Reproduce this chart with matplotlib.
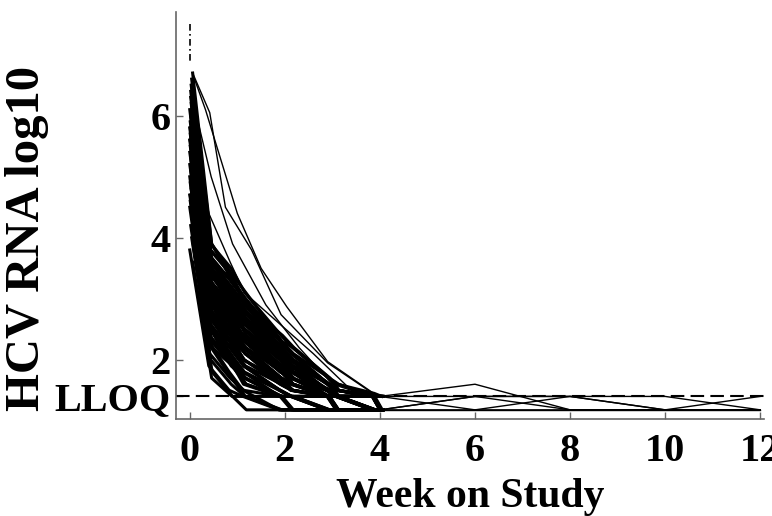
import matplotlib.pyplot as plt
import numpy as np

plt.rcParams['font.family'] = ['Liberation Serif', 'DejaVu Serif']
plt.rcParams['font.weight'] = 'bold'

lloq = 1.4

# nominal visit weeks (day 0, day 3, day 6, then early/late in each week window)
visit_weeks = [0.0, 0.40, 0.83, 1.12, 1.88, 2.12, 2.88, 3.07, 3.84, 4.0]
# per-subject offset of the actual visit from the nominal one (weeks)
subject_shift = [0.02, 0.05, 0.00, 0.03, 0.06, 0.01, 0.04, 0.07, 0.02, 0.05,
                 0.00, 0.03, 0.06, 0.01, 0.04, 0.02, 0.07, 0.00, 0.05, 0.03,
                 0.01, 0.06, 0.04, 0.02, 0.00, 0.07, 0.03, 0.05, 0.01, 0.06,
                 0.02, 0.04, 0.00, 0.07, 0.03, 0.05, 0.01, 0.06, 0.02, 0.04,
                 0.00, 0.03, 0.07, 0.05, 0.01, 0.06, 0.02, 0.04,
                 0.04, 0.01, 0.06, 0.03, 0.00, 0.05, 0.02, 0.07, 0.04, 0.01,
                 0.06, 0.03, 0.05, 0.00, 0.02, 0.07, 0.04, 0.01, 0.03, 0.06,
                 0.00, 0.05, 0.02, 0.04]

hcv_log10 = [
    [6.3, 3.7, 3.3, 3.0, 2.3, 2.1, 1.6, 1.5, 1.4, 1.4],
    [5.9, 3.4, 3.0, 2.7, 2.0, 1.9, 1.5, 1.4, 1.4, 1.18],
    [6.1, 3.5, 3.1, 2.8, 2.2, 2.0, 1.5, 1.4, 1.18, 1.18],
    [5.4, 3.0, 2.6, 2.4, 1.8, 1.7, 1.4, 1.4, 1.18, 1.18],
    [5.0, 2.7, 2.3, 2.1, 1.6, 1.5, 1.4, 1.18, 1.18, 1.18],
    [4.6, 2.4, 2.0, 1.8, 1.4, 1.4, 1.18, 1.18, 1.18, 1.18],
    [6.6, 3.9, 3.5, 3.1, 2.4, 2.2, 1.7, 1.6, 1.45, 1.4],
    [5.7, 3.2, 2.8, 2.6, 2.0, 1.8, 1.5, 1.4, 1.4, 1.4],
    [4.2, 2.1, 1.7, 1.5, 1.4, 1.18, 1.18, 1.18, 1.18, 1.18],
    [5.2, 2.9, 2.5, 2.2, 1.7, 1.6, 1.4, 1.4, 1.18, 1.18],
    [3.8, 1.9, 1.5, 1.4, 1.18, 1.18, 1.18, 1.18, 1.18, 1.18],
    [6.0, 3.3, 2.9, 2.5, 1.9, 1.8, 1.4, 1.4, 1.4, 1.18],
    [5.5, 3.1, 2.7, 2.3, 1.8, 1.6, 1.4, 1.18, 1.18, 1.18],
    [4.9, 2.6, 2.2, 1.9, 1.5, 1.4, 1.4, 1.18, 1.18, 1.18],
    [6.4, 3.6, 3.2, 2.9, 2.2, 2.0, 1.6, 1.5, 1.4, 1.4],
    [5.3, 2.8, 2.4, 2.0, 1.6, 1.5, 1.4, 1.4, 1.18, 1.18],
    [4.4, 2.2, 1.9, 1.6, 1.4, 1.4, 1.18, 1.18, 1.18, 1.18],
    [5.8, 3.3, 2.9, 2.7, 2.1, 1.9, 1.5, 1.4, 1.4, 1.18],
    [6.2, 3.5, 3.0, 2.6, 2.0, 1.8, 1.5, 1.4, 1.18, 1.18],
    [4.8, 2.5, 2.1, 1.7, 1.4, 1.4, 1.18, 1.18, 1.18, 1.18],
    [5.6, 3.0, 2.5, 2.2, 1.7, 1.6, 1.4, 1.4, 1.4, 1.18],
    [3.6, 1.7, 1.4, 1.4, 1.18, 1.18, 1.18, 1.18, 1.18, 1.18],
    [6.5, 3.8, 3.4, 2.9, 2.3, 2.1, 1.6, 1.5, 1.4, 1.4],
    [5.1, 2.7, 2.3, 1.9, 1.5, 1.4, 1.4, 1.18, 1.18, 1.18],
    [4.5, 2.3, 1.8, 1.5, 1.18, 1.18, 1.18, 1.18, 1.18, 1.18],
    [5.9, 3.4, 2.8, 2.4, 1.9, 1.7, 1.4, 1.4, 1.18, 1.18],
    [6.0, 3.2, 2.7, 2.5, 2.0, 1.9, 1.5, 1.4, 1.4, 1.18],
    [5.4, 2.9, 2.4, 2.1, 1.6, 1.5, 1.4, 1.18, 1.18, 1.18],
    [4.7, 2.4, 2.0, 1.6, 1.4, 1.4, 1.18, 1.18, 1.18, 1.18],
    [6.3, 3.6, 3.1, 2.8, 2.1, 1.9, 1.6, 1.4, 1.4, 1.4],
    [5.7, 3.1, 2.6, 2.3, 1.8, 1.7, 1.4, 1.4, 1.18, 1.18],
    [4.0, 2.0, 1.6, 1.4, 1.18, 1.18, 1.18, 1.18, 1.18, 1.18],
    [5.0, 2.6, 2.1, 1.8, 1.5, 1.4, 1.18, 1.18, 1.18, 1.18],
    [6.1, 3.4, 2.9, 2.6, 2.0, 1.8, 1.5, 1.4, 1.18, 1.18],
    [5.5, 2.8, 2.3, 2.0, 1.6, 1.5, 1.4, 1.4, 1.4, 1.18],
    [4.3, 2.2, 1.7, 1.4, 1.4, 1.18, 1.18, 1.18, 1.18, 1.18],
    [5.8, 3.2, 2.6, 2.2, 1.7, 1.6, 1.4, 1.18, 1.18, 1.18],
    [6.7, 3.9, 3.3, 3.0, 2.3, 2.1, 1.7, 1.5, 1.4, 1.4],
    [5.2, 2.7, 2.2, 1.9, 1.5, 1.4, 1.4, 1.18, 1.18, 1.18],
    [4.9, 2.5, 1.9, 1.7, 1.4, 1.4, 1.18, 1.18, 1.18, 1.18],
    [5.6, 3.1, 2.7, 2.4, 1.9, 1.7, 1.5, 1.4, 1.4, 1.18],
    [6.2, 3.3, 2.8, 2.5, 1.9, 1.8, 1.4, 1.4, 1.18, 1.18],
    [3.9, 1.8, 1.4, 1.18, 1.18, 1.18, 1.18, 1.18, 1.18, 1.18],
    [5.3, 2.9, 2.5, 2.2, 1.7, 1.5, 1.4, 1.4, 1.18, 1.18],
    [5.9, 3.5, 3.1, 2.7, 2.2, 2.0, 1.6, 1.5, 1.4, 1.4],
    [4.6, 2.3, 1.9, 1.6, 1.4, 1.18, 1.18, 1.18, 1.18, 1.18],
    [6.4, 3.7, 3.2, 2.8, 2.1, 1.9, 1.5, 1.4, 1.4, 1.18],
    [5.0, 2.5, 2.0, 1.7, 1.4, 1.4, 1.18, 1.18, 1.18, 1.18],
    [6.0, 3.6, 3.2, 2.9, 2.3, 2.1, 1.6, 1.5, 1.4, 1.4],
    [5.5, 3.3, 2.9, 2.6, 2.1, 1.9, 1.5, 1.4, 1.18, 1.18],
    [4.8, 2.8, 2.4, 2.2, 1.8, 1.6, 1.4, 1.4, 1.18, 1.18],
    [6.3, 3.8, 3.4, 3.0, 2.2, 2.0, 1.6, 1.5, 1.4, 1.4],
    [5.2, 3.0, 2.7, 2.4, 1.9, 1.7, 1.5, 1.4, 1.4, 1.18],
    [4.4, 2.5, 2.2, 1.9, 1.6, 1.5, 1.4, 1.18, 1.18, 1.18],
    [5.8, 3.5, 3.0, 2.8, 2.2, 2.0, 1.6, 1.4, 1.4, 1.18],
    [6.1, 3.6, 3.3, 2.9, 2.4, 2.2, 1.7, 1.5, 1.4, 1.4],
    [5.0, 2.9, 2.6, 2.3, 1.8, 1.6, 1.4, 1.4, 1.18, 1.18],
    [5.6, 3.2, 2.8, 2.5, 2.0, 1.8, 1.5, 1.4, 1.4, 1.18],
    [4.1, 2.3, 2.0, 1.7, 1.4, 1.4, 1.18, 1.18, 1.18, 1.18],
    [6.5, 3.7, 3.3, 3.0, 2.3, 2.1, 1.6, 1.5, 1.4, 1.4],
    [5.3, 3.1, 2.7, 2.5, 2.0, 1.8, 1.5, 1.4, 1.18, 1.18],
    [4.7, 2.7, 2.3, 2.0, 1.7, 1.5, 1.4, 1.4, 1.18, 1.18],
    [5.9, 3.4, 3.0, 2.7, 2.1, 1.9, 1.5, 1.4, 1.4, 1.18],
    [6.2, 3.5, 3.1, 2.8, 2.2, 2.0, 1.6, 1.4, 1.4, 1.4],
    [5.1, 2.8, 2.5, 2.1, 1.7, 1.6, 1.4, 1.18, 1.18, 1.18],
    [5.7, 3.3, 2.9, 2.6, 2.1, 1.9, 1.5, 1.4, 1.4, 1.18],
    [4.5, 2.6, 2.1, 1.8, 1.5, 1.4, 1.4, 1.18, 1.18, 1.18],
    [6.4, 3.9, 3.4, 3.1, 2.3, 2.2, 1.7, 1.6, 1.4, 1.4],
    [5.4, 3.2, 2.8, 2.4, 1.9, 1.7, 1.5, 1.4, 1.18, 1.18],
    [4.9, 2.8, 2.4, 2.1, 1.7, 1.6, 1.4, 1.4, 1.18, 1.18],
    [6.0, 3.4, 3.0, 2.6, 2.0, 1.8, 1.5, 1.4, 1.4, 1.18],
    [5.6, 3.0, 2.6, 2.3, 1.8, 1.7, 1.4, 1.4, 1.18, 1.18],
]

# slower responders, with their own visit weeks
slow_weeks = [
    [0.06, 0.42, 0.75, 1.30, 1.92, 2.90, 3.85],
    [0.10, 0.33, 1.00, 1.50, 2.04, 2.90, 3.85],
    [0.05, 0.45, 0.90, 1.60, 2.30, 3.00, 3.80],
    [0.03, 0.40, 0.85, 1.15, 2.60, 3.40, 4.00],
]
slow_log10 = [
    [6.7, 6.05, 4.5, 3.8, 2.74, 1.95, 1.45],
    [6.6, 6.1, 4.4, 3.5, 2.87, 1.97, 1.46],
    [6.3, 5.0, 3.9, 2.9, 2.2, 1.6, 1.4],
    [6.0, 4.4, 3.6, 3.1, 2.1, 1.5, 1.4],
]

# subjects followed after week 4
followup_weeks = [4, 6, 8, 10, 12]
followup_log10 = [
    [1.4, 1.6, 1.18, 1.18, 1.18],
    [1.18, 1.4, 1.18, 1.18, 1.18],
    [1.18, 1.18, 1.4, 1.18, 1.4],
    [1.4, 1.4, 1.4, 1.18, 1.18],
    [1.18, 1.18, 1.18, 1.18, 1.18],
    [1.4, 1.18, 1.18, 1.18, 1.18],
    [1.18, 1.4, 1.4, 1.4, 1.18],
]

screen_log10 = [7.5, 6.9]

xticks = [0, 2, 4, 6, 8, 10, 12]
yticks = [lloq, 2, 4, 6]
ytick_labels = ['LLOQ', '2', '4', '6']

fig = plt.figure(figsize=(7.72, 5.16), dpi=100)
ax = fig.add_axes([176 / 772, 1 - 419 / 516, 588 / 772, 407 / 516])

for shift, vals in zip(subject_shift, hcv_log10):
    ax.plot(np.array(visit_weeks) + shift, vals, color='black', lw=2.2)
for wk, vals in zip(slow_weeks, slow_log10):
    ax.plot(wk, vals, color='black', lw=1.0)
for vals in followup_log10:
    ax.plot(followup_weeks, vals, color='black', lw=1.0)
ax.plot([0, 0], screen_log10, color='black', lw=1.2, dashes=(4, 2, 1, 2))

ax.axhline(lloq, color='black', lw=1.5, dashes=(6.5, 3))

ax.set_xlim(-0.29, 12.08)
ax.set_ylim(1.03, 7.7)
ax.set_xticks(xticks)
ax.set_yticks(yticks)
ax.set_yticklabels(ytick_labels)

for s in ['top', 'right']:
    ax.spines[s].set_visible(False)
for s in ['left', 'bottom']:
    ax.spines[s].set_color('#666666')
    ax.spines[s].set_linewidth(1.2)

ax.tick_params(axis='both', direction='in', length=5, width=1, color='#666666',
               labelsize=29)
ax.tick_params(axis='x', pad=10)
ax.tick_params(axis='y', pad=4)

ax.set_xlabel('Week on Study', fontsize=30, fontweight='bold', labelpad=6)
ax.set_ylabel('HCV RNA log10', fontsize=35, fontweight='bold')
ax.yaxis.set_label_coords((49 - 176) / 588, (419 - 238) / 407)

fig.savefig('out.png', dpi=100)
